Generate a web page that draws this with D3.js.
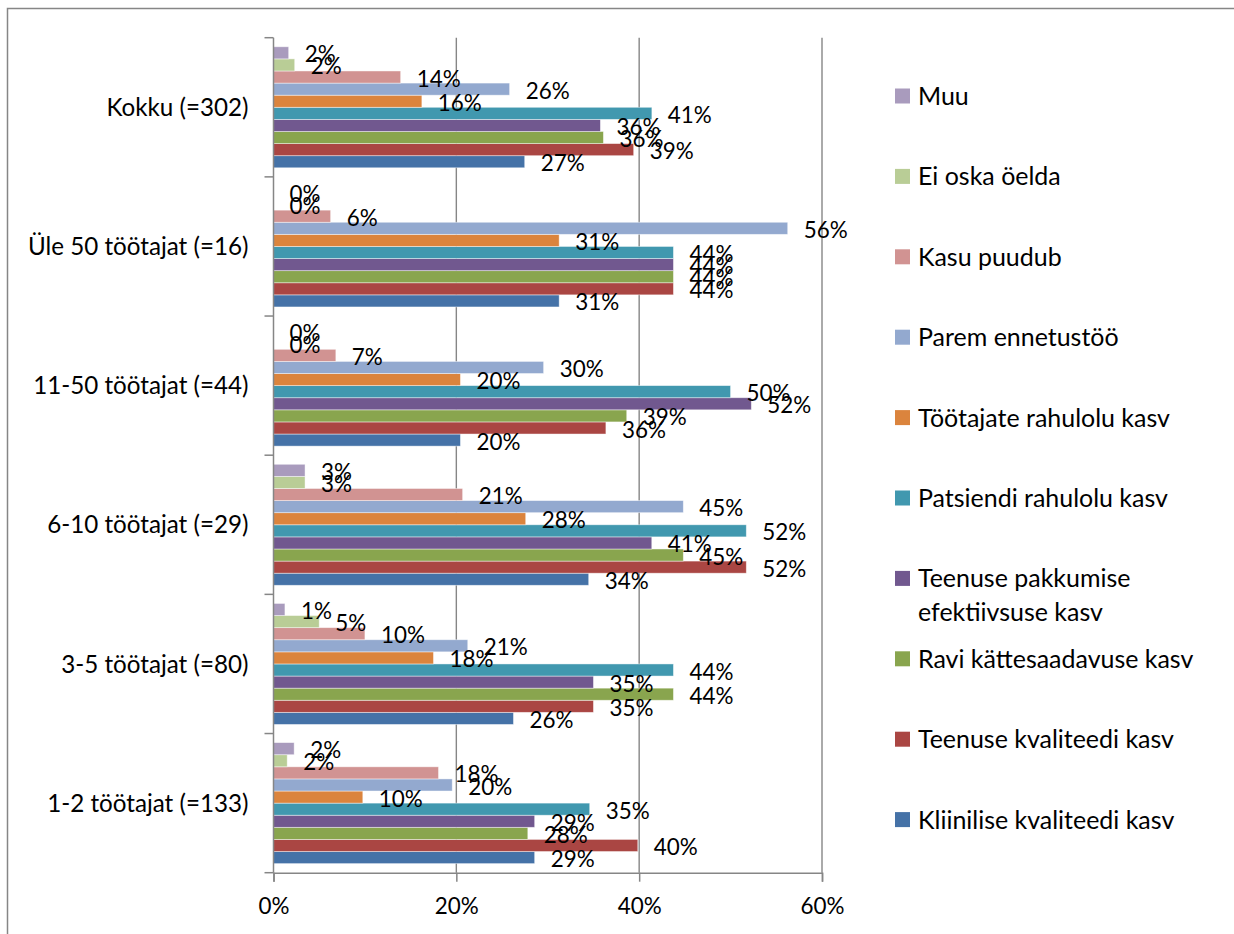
<!DOCTYPE html>
<html>
<head>
<meta charset="utf-8">
<script src="https://cdn.jsdelivr.net/npm/d3@7/dist/d3.min.js"></script>
<style>
  html, body { margin: 0; padding: 0; background: #fff; }
  svg { display: block; }
  text { font-family: Lato, "Open Sans", sans-serif; fill: #000; }
</style>
</head>
<body>
<svg id="chart" width="1234" height="934"></svg>
<script>
const categories = ["Kokku (=302)", "Üle 50 töötajat (=16)", "11-50 töötajat (=44)", "6-10 töötajat (=29)", "3-5 töötajat (=80)", "1-2 töötajat (=133)"];
const seriesNames = ["Kliinilise kvaliteedi kasv", "Teenuse kvaliteedi kasv", "Ravi kättesaadavuse kasv", "Teenuse pakkumise efektiivsuse kasv", "Patsiendi rahulolu kasv", "Töötajate rahulolu kasv", "Parem ennetustöö", "Kasu puudub", "Ei oska öelda", "Muu"];
const seriesColors = ["#4572A7", "#AA4643", "#89A54E", "#71588F", "#4198AF", "#DB843D", "#93A9CF", "#D19392", "#B9CD96", "#A99BBD"];
// values in percent, per series, in category order
const kliinilise   = [27.48, 31.25, 20.45, 34.48, 26.25, 28.57];
const teenuseKval  = [39.40, 43.75, 36.36, 51.72, 35.00, 39.85];
const raviKatt     = [36.09, 43.75, 38.64, 44.83, 43.75, 27.82];
const teenusePakk  = [35.76, 43.75, 52.27, 41.38, 35.00, 28.57];
const patsiendi    = [41.39, 43.75, 50.00, 51.72, 43.75, 34.59];
const tootajate    = [16.23, 31.25, 20.45, 27.59, 17.50, 9.77];
const paremEnnet   = [25.83, 56.25, 29.55, 44.83, 21.25, 19.55];
const kasuPuudub   = [13.91, 6.25, 6.82, 20.69, 10.00, 18.05];
const eiOska       = [2.32, 0, 0, 3.45, 5.00, 1.50];
const muu          = [1.66, 0, 0, 3.45, 1.25, 2.26];
const seriesValues = [kliinilise, teenuseKval, raviKatt, teenusePakk, patsiendi, tootajate, paremEnnet, kasuPuudub, eiOska, muu];
const xTicks = [0, 20, 40, 60];

const svg = d3.select("#chart");
const gray = "#868686";

// font sizes fitted so Lato approximates the Calibri text widths of the original
function fit(str, target) {
  const t = svg.append("text").attr("font-size", 100).text(str);
  const w = t.node().getComputedTextLength();
  t.remove();
  return 100 * target / w;
}
const fsCat = (fit("Kokku (=302)", 141) + fit("1-2 töötajat (=133)", 203)) / 2;
const fsLeg = fit("Töötajate rahulolu kasv", 252);
const fsLab = fit("52%", 44);

// outer chart border
svg.append("rect").attr("x", 7.5).attr("y", 8.5).attr("width", 1300).attr("height", 1000)
  .attr("fill", "none").attr("stroke", gray).attr("stroke-width", 1.5);

const x = d3.scaleLinear().domain([0, 60]).range([273.5, 822]);
const y0 = d3.scaleBand().domain(categories).range([37.7, 872.7]);
const bw = y0.bandwidth();
const barH = bw / 11.5;
const y1 = d3.scaleBand().domain(seriesNames.slice().reverse()).range([0.75 * barH, bw - 0.75 * barH]);

// gridlines
svg.append("g").selectAll("line").data(xTicks.filter(d => d > 0)).join("line")
  .attr("x1", d => x(d)).attr("x2", d => x(d))
  .attr("y1", y0.range()[0]).attr("y2", y0.range()[1])
  .attr("stroke", gray).attr("stroke-width", 1.4);

// bars
const groups = svg.append("g").selectAll("g").data(categories).join("g")
  .attr("transform", c => `translate(0,${y0(c)})`);
groups.each(function(c, ci) {
  const g = d3.select(this);
  const rows = seriesNames.map((s, si) => ({ s, v: seriesValues[si][ci], color: seriesColors[si] }));
  g.selectAll("rect").data(rows.filter(r => r.v > 0)).join("rect")
    .attr("x", x(0)).attr("y", r => y1(r.s))
    .attr("width", r => x(r.v) - x(0)).attr("height", y1.bandwidth())
    .attr("fill", r => r.color)
    .attr("stroke", "#fff").attr("stroke-opacity", 0.55).attr("stroke-width", 0.8);
  g.selectAll("text").data(rows).join("text")
    .attr("x", r => x(r.v) + 16)
    .attr("y", r => y1(r.s) + y1.bandwidth() / 2 + fsLab * 0.36 + 1.5)
    .attr("font-size", fsLab)
    .text(r => Math.round(r.v) + "%");
});

// x axis
const xAxis = svg.append("g").attr("transform", `translate(0,${y0.range()[1]})`)
  .call(d3.axisBottom(x).tickValues(xTicks).tickFormat(d => d + "%").tickSize(9).tickPadding(14));
xAxis.select(".domain").attr("stroke", gray).attr("stroke-width", 1.5);
xAxis.selectAll(".tick line").attr("stroke", gray).attr("stroke-width", 1.5);
xAxis.selectAll(".tick text").attr("font-size", fsLab).attr("font-family", "Lato, sans-serif").attr("fill", "#000").attr("dy", "0.8em");

// y axis line + boundary ticks
const yAxisG = svg.append("g");
yAxisG.append("line").attr("x1", x(0)).attr("x2", x(0))
  .attr("y1", y0.range()[0]).attr("y2", y0.range()[1]).attr("stroke", gray).attr("stroke-width", 1.5);
const bounds = categories.map(c => y0(c)).concat([y0.range()[1]]);
yAxisG.selectAll("line.tk").data(bounds).join("line").attr("class", "tk")
  .attr("x1", x(0) - 9).attr("x2", x(0)).attr("y1", d => d).attr("y2", d => d)
  .attr("stroke", gray).attr("stroke-width", 1.5);
yAxisG.selectAll("text").data(categories).join("text")
  .attr("x", 248.5).attr("y", c => y0(c) + bw / 2 + fsCat * 0.36)
  .attr("text-anchor", "end").attr("font-size", fsCat).text(c => c);

// legend
const legendItems = seriesNames.map((s, i) => ({ s, color: seriesColors[i] })).reverse();
const legend = svg.append("g");
legendItems.forEach((it, i) => {
  const cy = 96 + i * 80.4;
  legend.append("rect").attr("x", 895).attr("y", cy - 7.5).attr("width", 15).attr("height", 15).attr("fill", it.color);
  const lines = it.s === "Teenuse pakkumise efektiivsuse kasv" ? ["Teenuse pakkumise", "efektiivsuse kasv"] : [it.s];
  lines.forEach((ln, li) => {
    legend.append("text").attr("x", 918).attr("y", cy + fsLeg * 0.36 + li * 33.4)
      .attr("font-size", fsLeg).text(ln);
  });
});
</script>
</body>
</html>
